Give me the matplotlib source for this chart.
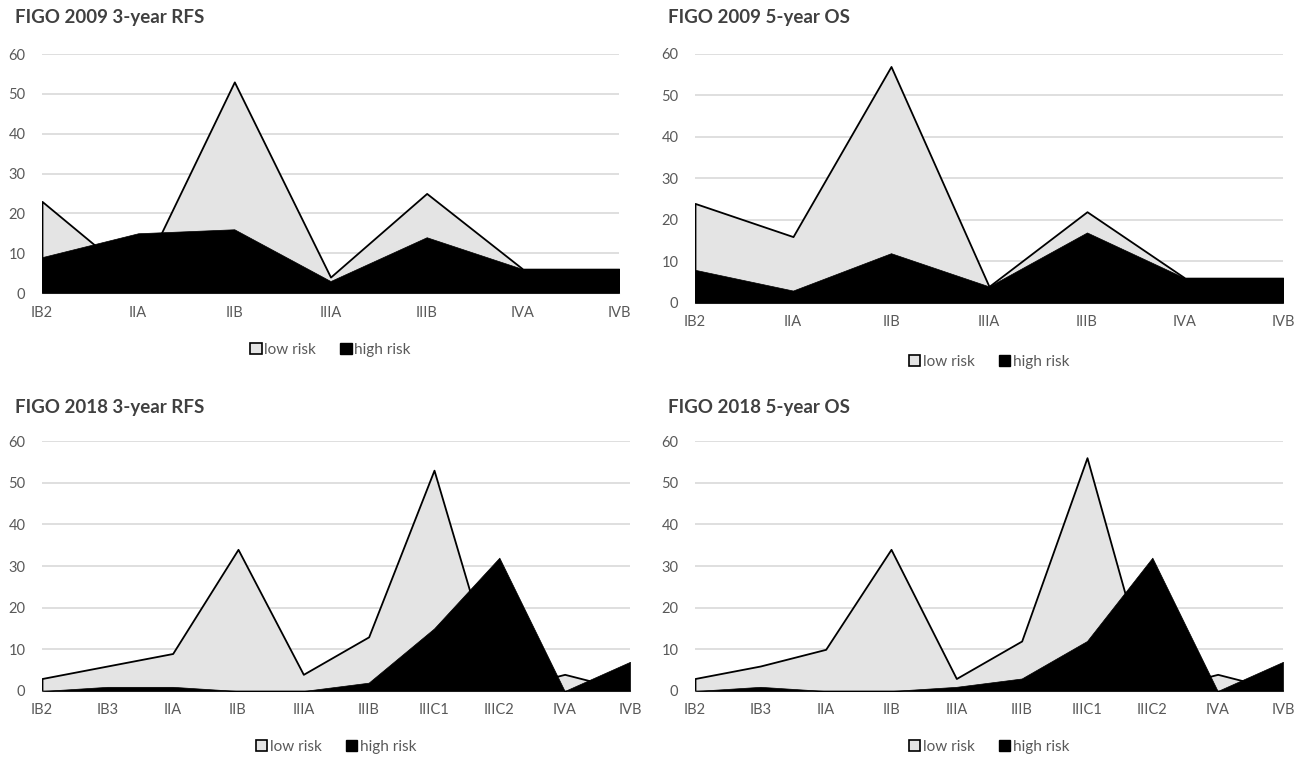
import matplotlib
matplotlib.use("Agg")
import matplotlib.pyplot as plt
from matplotlib.patches import Patch

plt.rcParams['font.family'] = ['Lato', 'DejaVu Sans']

# categories
stages_2009 = ["IB2", "IIA", "IIB", "IIIA", "IIIB", "IVA", "IVB"]
stages_2018 = ["IB2", "IB3", "IIA", "IIB", "IIIA", "IIIB", "IIIC1", "IIIC2", "IVA", "IVB"]

# FIGO 2009 3-year RFS
rfs09_low = [23, 3, 53, 4, 25, 6, 6]
rfs09_high = [9, 15, 16, 3, 14, 6, 6]

# FIGO 2009 5-year OS
os09_low = [24, 16, 57, 4, 22, 6, 6]
os09_high = [8, 3, 12, 4, 17, 6, 6]

# FIGO 2018 3-year RFS
rfs18_low = [3, 6, 9, 34, 4, 13, 53, 0, 4, 0]
rfs18_high = [0, 1, 1, 0, 0, 2, 15, 32, 0, 7]

# FIGO 2018 5-year OS
os18_low = [3, 6, 10, 34, 3, 12, 56, 0, 4, 0]
os18_high = [0, 1, 0, 0, 1, 3, 12, 32, 0, 7]

titles = ["FIGO 2009 3-year RFS", "FIGO 2009 5-year OS",
          "FIGO 2018 3-year RFS", "FIGO 2018 5-year OS"]

W, H = 1306, 758
fig = plt.figure(figsize=(W / 100, H / 100), dpi=100)


def box(x0, x1, ytop, ybot):  # pixel box -> figure fraction rect
    return [x0 / W, 1 - ybot / H, (x1 - x0) / W, (ybot - ytop) / H]


# (pixel box of plot area, categories, low, high, title pos, legend centre y)
panels = [
    ((42, 619, 54, 293), stages_2009, rfs09_low, rfs09_high, (15, 18), 350),
    ((695, 1283, 54, 303), stages_2009, os09_low, os09_high, (668, 18), 362),
    ((42, 630, 441, 691), stages_2018, rfs18_low, rfs18_high, (15, 407), 747),
    ((695, 1283, 441, 691), stages_2018, os18_low, os18_high, (668, 407), 747),
]

grey_txt = "#595959"
light = "#e4e4e4"

for (px, cats, low, high, tpos, legy), title in zip(panels, titles):
    ax = fig.add_axes(box(*px))
    x = list(range(len(cats)))
    ax.fill_between(x, 0, low, facecolor=light, edgecolor="black", linewidth=1.3, zorder=2)
    ax.fill_between(x, 0, high, facecolor="black", edgecolor="black", linewidth=0.5, zorder=3)
    ax.set_xlim(0, len(cats) - 1)
    ax.set_ylim(0, 60)
    ax.set_yticks(range(0, 61, 10))
    ax.set_xticks(x)
    ax.set_xticklabels(cats)
    ax.grid(axis="y", color="#d9d9d9", linewidth=1.2, zorder=0)
    ax.set_axisbelow(True)
    for s in ["top", "right", "left"]:
        ax.spines[s].set_visible(False)
    ax.spines["bottom"].set_color("#bfbfbf")
    ax.tick_params(length=0, labelsize=10.5, labelcolor=grey_txt)
    ax.tick_params(axis="y", pad=12)
    ax.tick_params(axis="x", pad=9)
    handles = [Patch(facecolor=light, edgecolor="black", linewidth=1.2, label="low risk"),
               Patch(facecolor="black", edgecolor="black", label="high risk")]
    cx = (px[0] + px[1]) / 2
    leg = fig.legend(handles=handles, loc="center", bbox_to_anchor=(cx / W, 1 - legy / H),
                     ncol=2, frameon=False, fontsize=11, handlelength=0.75,
                     handleheight=0.75, handletextpad=0.15, columnspacing=1.6)
    for t in leg.get_texts():
        t.set_color(grey_txt)
    fig.text(tpos[0] / W, 1 - tpos[1] / H, title, fontsize=13.5, fontweight="bold",
             color="#404040", ha="left", va="center")

fig.savefig("out.png", dpi=100, facecolor="white")
